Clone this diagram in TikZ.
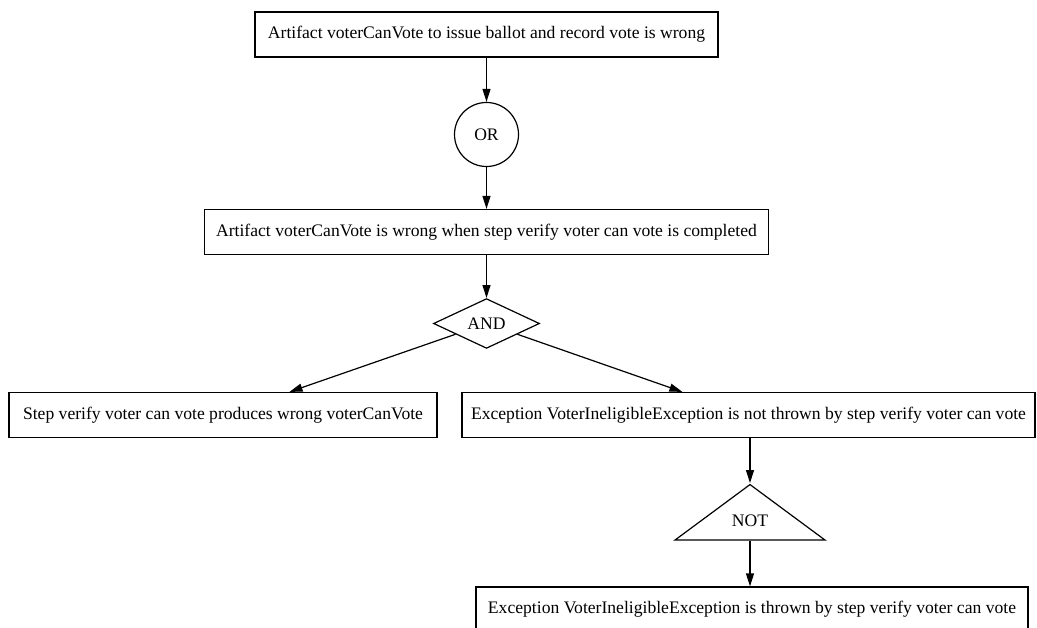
\documentclass[tikz,border=0pt]{standalone}
\usepackage{fontspec}
\setmainfont{Liberation Serif}
\usetikzlibrary{shapes.geometric,arrows.meta}
\begin{document}
\begin{tikzpicture}[x=1pt, y=-1pt,
    every node/.style={font=\fontsize{17.6}{20}\selectfont},
    event/.style={draw, rectangle, line width=1.2pt, minimum height=45pt, inner xsep=4pt},
    edge/.style={-{Triangle[length=13pt,width=8pt]}, line width=1.2pt}]
          \useasboundingbox (0,0) rectangle (1037,628);

          \node[event, minimum width=463pt] (wrong) at (486.5,34.5) {Artifact voterCanVote to issue ballot and record vote is wrong};

          \node[circle, draw, line width=1.2pt, minimum size=64pt, inner sep=0pt] (or) at (486.5,134.5) {OR};

          \node[event, minimum width=564pt] (completed) at (486.5,232) {Artifact voterCanVote is wrong when step verify voter can vote is completed};

          \node[diamond, draw, line width=1.2pt, minimum width=106pt, minimum height=45pt, inner sep=0pt] (and) at (486.5,323.5) {AND};

          \node[event, minimum width=428pt] (produces) at (223,415) {Step verify voter can vote produces wrong voterCanVote};
          \node[event, minimum width=573pt] (notthrown) at (748.5,415) {Exception VoterIneligibleException is not thrown by step verify voter can vote};

          \node[isosceles triangle, isosceles triangle stretches, shape border rotate=90, draw, line width=1.2pt,
                minimum width=150pt, minimum height=53pt, inner sep=0pt, anchor=apex] (not) at (750,483) {NOT};

          \node[event, minimum width=552pt] (thrown) at (752,609.5) {Exception VoterIneligibleException is thrown by step verify voter can vote};

          \draw[edge] (wrong) -- (or);
          \draw[edge] (or) -- (completed);
          \draw[edge] (completed) -- (and);

          \draw[edge] (and) -- (produces);
          \draw[edge] (and) -- (notthrown);

          \draw[edge] (notthrown.south -| not.apex) -- (not.apex);
          \draw[edge] (not.lower side) -- (not.lower side |- thrown.north);
        \end{tikzpicture}
\end{document}
